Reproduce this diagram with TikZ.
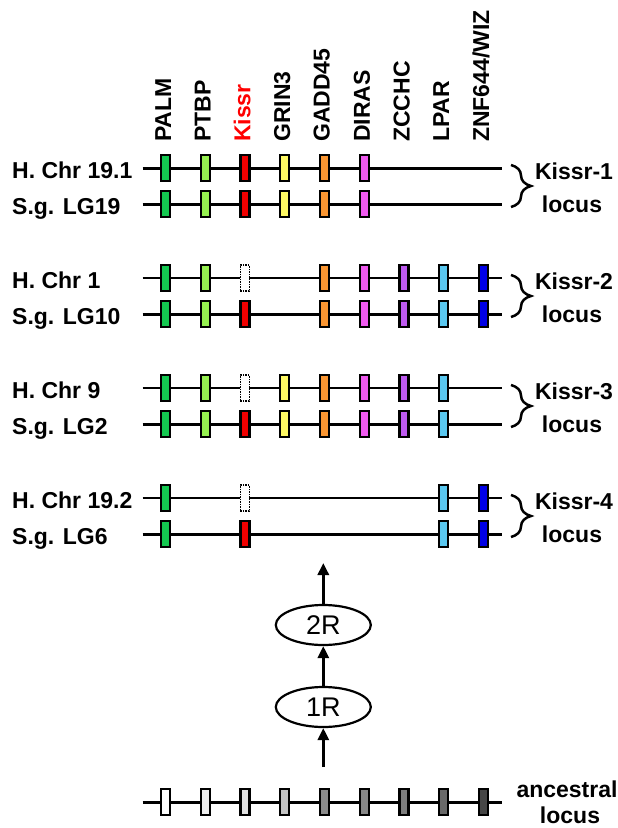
\documentclass[tikz,border=0pt]{standalone}
\usepackage{fontspec}
\setmainfont{Liberation Sans}
\usetikzlibrary{decorations.pathreplacing,shapes.geometric,arrows.meta}
\definecolor{cPALM}{RGB}{20,200,80}
\definecolor{cPTBP}{RGB}{150,240,80}
\definecolor{cKiss}{RGB}{240,0,0}
\definecolor{cGRIN}{RGB}{255,250,100}
\definecolor{cGADD}{RGB}{250,150,50}
\definecolor{cDIRA}{RGB}{240,90,240}
\definecolor{cZCCH}{RGB}{190,90,240}
\definecolor{cLPAR}{RGB}{90,200,240}
\definecolor{cZNF}{RGB}{0,0,230}
\definecolor{a1}{RGB}{255,255,255}
\definecolor{a2}{RGB}{240,240,240}
\definecolor{a3}{RGB}{225,225,225}
\definecolor{a4}{RGB}{195,195,195}
\definecolor{a5}{RGB}{140,140,140}
\definecolor{a6}{RGB}{135,135,135}
\definecolor{a7}{RGB}{125,125,125}
\definecolor{a8}{RGB}{105,105,105}
\definecolor{a9}{RGB}{70,70,70}
\begin{document}
\begin{tikzpicture}[x=1pt,y=-1pt,
  gene/.style={draw=black, line width=2.4pt, minimum width=9pt, minimum height=26pt, inner sep=0pt, fill=#1},
  lost/.style={draw=black, densely dotted, line width=1.5pt, minimum width=9pt, minimum height=26pt, inner sep=0pt, fill=white},
  sline/.style={line width=3pt},
  hline/.style={line width=2.2pt},
  lab/.style={font=\fontsize{23}{26}\selectfont\bfseries, inner sep=0pt},
  glab/.style={lab, rotate=90, anchor=west, text height=16pt, text depth=0pt},
  clab/.style={lab, anchor=base west},
  llab/.style={lab, anchor=base},
  brc/.style={decorate, decoration={brace, amplitude=20pt}, line width=2.5pt},
  rnd/.style={ellipse, draw=black, line width=2.2pt, minimum width=95pt, minimum height=40pt, inner sep=0pt, font=\fontsize{27}{30}\selectfont},
  arr/.style={-{Triangle[length=12pt,width=11pt]}, line width=3pt}
]
\useasboundingbox (0,0) rectangle (618,828);
% column positions
\def\cA{165.5}\def\cB{205.2}\def\cC{244.8}\def\cD{284.6}\def\cE{324.2}
\def\cF{364.4}\def\cG{404.1}\def\cH{443.7}\def\cI{483.5}
% gene labels
\node[glab] (tPALM) at (\cA-2.5,142) {PALM};
\node[glab] (tPTBP) at (\cB-2.5,142) {PTBP};
\node[glab, text=red] (tKiss) at (\cC-2.5,142) {Kissr};
\node[glab] (tGRIN) at (\cD-2.5,142) {GRIN3};
\node[glab] (tGADD) at (\cE-2.5,142) {GADD45};
\node[glab] (tDIRA) at (\cF-2.5,142) {DIRAS};
\node[glab] (tZCCH) at (\cG-2.5,142) {ZCCHC};
\node[glab] (tLPAR) at (\cH-2.5,142) {LPAR};
\node[glab] (tZNF) at (\cI-2.5,142) {ZNF644/WIZ};
% chromosome labels
\node[clab] (l1) at (12,178) {H. Chr 19.1};
\node[clab] (l2) at (12,214) {S.g. LG19};
\node[clab] (l3) at (12,288) {H. Chr 1};
\node[clab] (l4) at (12,324) {S.g. LG10};
\node[clab] (l5) at (12,398) {H. Chr 9};
\node[clab] (l6) at (12,434) {S.g. LG2};
\node[clab] (l7) at (12,508) {H. Chr 19.2};
\node[clab] (l8) at (12,544) {S.g. LG6};
% lines
\foreach \n/\y/\s in {1/168/sline,2/204/sline,3/278/hline,4/314/sline,5/388/hline,6/424/sline,7/498/hline,8/534/sline}{
  \coordinate (s\n) at (142.7,\y);
  \coordinate (e\n) at (501.7,\y);
  \draw[\s] (s\n) -- (e\n);
}
% row 1 and 2
\foreach \n/\y in {1/168,2/204}{
  \node[gene=cPALM] (r\n a) at (\cA,\y) {};
  \node[gene=cPTBP] (r\n b) at (\cB,\y) {};
  \node[gene=cKiss] (r\n c) at (\cC,\y) {};
  \node[gene=cGRIN] (r\n d) at (\cD,\y) {};
  \node[gene=cGADD] (r\n e) at (\cE,\y) {};
  \node[gene=cDIRA] (r\n f) at (\cF,\y) {};
}
% rows 3 and 4
\foreach \n/\y in {3/278,4/314}{
  \node[gene=cPALM] (r\n a) at (\cA,\y) {};
  \node[gene=cPTBP] (r\n b) at (\cB,\y) {};
  \node[gene=cGADD] (r\n e) at (\cE,\y) {};
  \node[gene=cDIRA] (r\n f) at (\cF,\y) {};
  \node[gene=cZCCH] (r\n g) at (\cG,\y) {};
  \node[gene=cLPAR] (r\n h) at (\cH,\y) {};
  \node[gene=cZNF] (r\n i) at (\cI,\y) {};
}
\node[lost] (r3c) at (\cC,278) {};
\node[gene=cKiss] (r4c) at (\cC,314) {};
% rows 5 and 6
\foreach \n/\y in {5/388,6/424}{
  \node[gene=cPALM] (r\n a) at (\cA,\y) {};
  \node[gene=cPTBP] (r\n b) at (\cB,\y) {};
  \node[gene=cGRIN] (r\n d) at (\cD,\y) {};
  \node[gene=cGADD] (r\n e) at (\cE,\y) {};
  \node[gene=cDIRA] (r\n f) at (\cF,\y) {};
  \node[gene=cZCCH] (r\n g) at (\cG,\y) {};
  \node[gene=cLPAR] (r\n h) at (\cH,\y) {};
}
\node[lost] (r5c) at (\cC,388) {};
\node[gene=cKiss] (r6c) at (\cC,424) {};
% rows 7 and 8
\foreach \n/\y in {7/498,8/534}{
  \node[gene=cPALM] (r\n a) at (\cA,\y) {};
  \node[gene=cLPAR] (r\n h) at (\cH,\y) {};
  \node[gene=cZNF] (r\n i) at (\cI,\y) {};
}
\node[lost] (r7c) at (\cC,498) {};
\node[gene=cKiss] (r8c) at (\cC,534) {};
% braces and locus labels
\foreach \k/\ya/\yb in {1/168/204,2/278/314,3/388/424,4/498/534}{
  \coordinate (bt\k) at (511,\ya-3);
  \coordinate (bb\k) at (511,\yb+3);
  \draw[brc] (bt\k) -- (bb\k);
  \node[llab] (k\k) at (574,\ya+11) {Kissr-\k};
  \node[llab] (lo\k) at (572,\yb+8) {locus};
}
% ancestral locus
\coordinate (as) at (142.7,802);
\coordinate (ae) at (501.7,802);
\draw[sline] (as) -- (ae);
\node[gene=a1] (x1) at (\cA,802) {};
\node[gene=a2] (x2) at (\cB,802) {};
\node[gene=a3] (x3) at (\cC,802) {};
\node[gene=a4] (x4) at (\cD,802) {};
\node[gene=a5] (x5) at (\cE,802) {};
\node[gene=a6] (x6) at (\cF,802) {};
\node[gene=a7] (x7) at (\cG,802) {};
\node[gene=a8] (x8) at (\cH,802) {};
\node[gene=a9] (x9) at (\cI,802) {};
\node[llab] (anc) at (567,797) {ancestral};
\node[llab] (ancl) at (570,823) {locus};
% rounds
\node[rnd] (R2) at (323.3,625) {2R};
\node[rnd] (R1) at (323.3,707) {1R};
\coordinate (a0) at (323.3,767);
\coordinate (a3) at (323.3,563);
\draw[arr] (a0) -- (R1.south);
\draw[arr] (R1.north) -- (R2.south);
\draw[arr] (R2.north) -- (a3);
\end{tikzpicture}
\end{document}
